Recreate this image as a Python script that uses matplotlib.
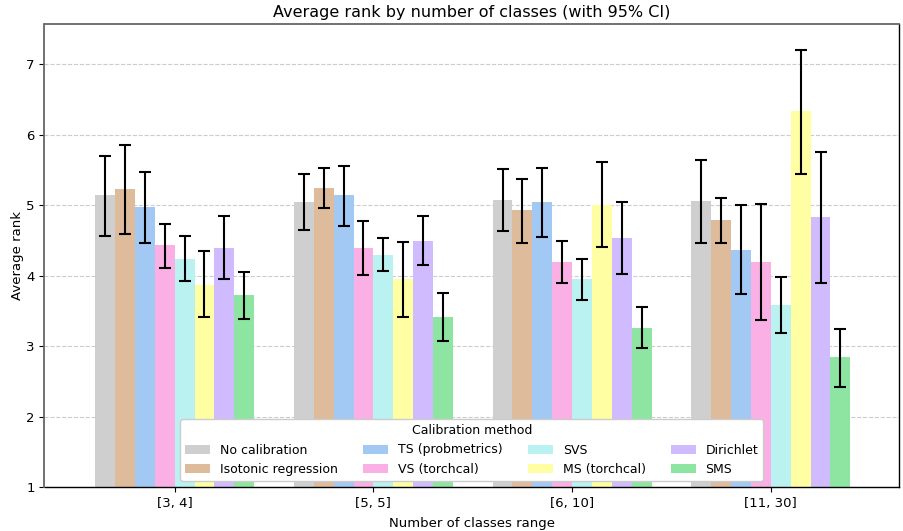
import numpy as np
import matplotlib
matplotlib.use("Agg")
import matplotlib.pyplot as plt

groups = ["[3, 4]", "[5, 5]", "[6, 10]", "[11, 30]"]
methods = ["No calibration", "Isotonic regression", "TS (probmetrics)", "VS (torchcal)",
           "SVS", "MS (torchcal)", "Dirichlet", "SMS"]
colors = ["#cfcfcf", "#debb9b", "#a1c9f4", "#fab0e4",
          "#b9f2f0", "#fffea3", "#d0bbff", "#8de5a1"]

# mean rank per method (rows) and class-range group (columns)
mean_rank = [
    [5.14, 5.04, 5.07, 5.06],
    [5.23, 5.24, 4.93, 4.79],
    [4.97, 5.14, 5.04, 4.37],
    [4.43, 4.40, 4.20, 4.19],
    [4.24, 4.30, 3.95, 3.58],
    [3.87, 3.95, 5.01, 6.34],
    [4.40, 4.50, 4.54, 4.83],
    [3.72, 3.42, 3.26, 2.84],
]
ci_low = [
    [4.57, 4.65, 4.64, 4.47],
    [4.59, 4.96, 4.46, 4.47],
    [4.47, 4.70, 4.55, 3.74],
    [4.11, 4.01, 3.90, 3.37],
    [3.93, 4.06, 3.65, 3.18],
    [3.41, 3.42, 4.41, 5.45],
    [3.95, 4.15, 4.03, 3.90],
    [3.38, 3.08, 2.97, 2.42],
]
ci_high = [
    [5.70, 5.44, 5.51, 5.64],
    [5.86, 5.53, 5.38, 5.11],
    [5.47, 5.56, 5.53, 5.00],
    [4.74, 4.78, 4.49, 5.02],
    [4.56, 4.53, 4.24, 3.98],
    [4.35, 4.48, 5.61, 7.21],
    [4.85, 4.85, 5.04, 5.76],
    [4.05, 3.75, 3.56, 3.24],
]

fig = plt.figure(figsize=(9.04, 5.31), dpi=100)
ax = fig.add_axes([44.5 / 904, 1 - 487 / 531, (899 - 44.5) / 904, (487 - 24.3) / 531])

x = np.arange(len(groups))
width = 0.1
n = len(methods)
for i, (name, col) in enumerate(zip(methods, colors)):
    pos = x + (i - (n - 1) / 2) * width
    m = np.array(mean_rank[i])
    lo = m - np.array(ci_low[i])
    hi = np.array(ci_high[i]) - m
    ax.bar(pos, m, width=width, color=col, label=name, zorder=2)
    ax.errorbar(pos, m, yerr=[lo, hi], fmt="none", ecolor="black",
                elinewidth=1.5, capsize=4, capthick=1.5, zorder=3)

ax.set_xticks(x)
ax.set_xticklabels(groups)
ax.tick_params(labelsize=9.5)
ax.set_xlim(-0.655, 3.645)
ax.set_ylim(1, 7.57)
ax.set_yticks([1, 2, 3, 4, 5, 6, 7])
ax.yaxis.grid(True, linestyle="--", color="#cccccc", linewidth=0.8, zorder=0)
ax.set_axisbelow(True)

ax.set_title("Average rank by number of classes (with 95% CI)", fontsize=11.5, pad=5)
ax.set_xlabel("Number of classes range", fontsize=9.5, labelpad=5)
ax.set_ylabel("Average rank", fontsize=9.5, labelpad=1.5)

for side in ("left", "top"):
    ax.spines[side].set_color("#666666")
    ax.spines[side].set_linewidth(1.3)
for side in ("right", "bottom"):
    ax.spines[side].set_color("black")
    ax.spines[side].set_linewidth(1.0)

ax.legend(title="Calibration method", ncol=4, loc="lower center",
          fontsize=9, title_fontsize=9, framealpha=1.0)

fig.savefig("out.png", dpi=100)
